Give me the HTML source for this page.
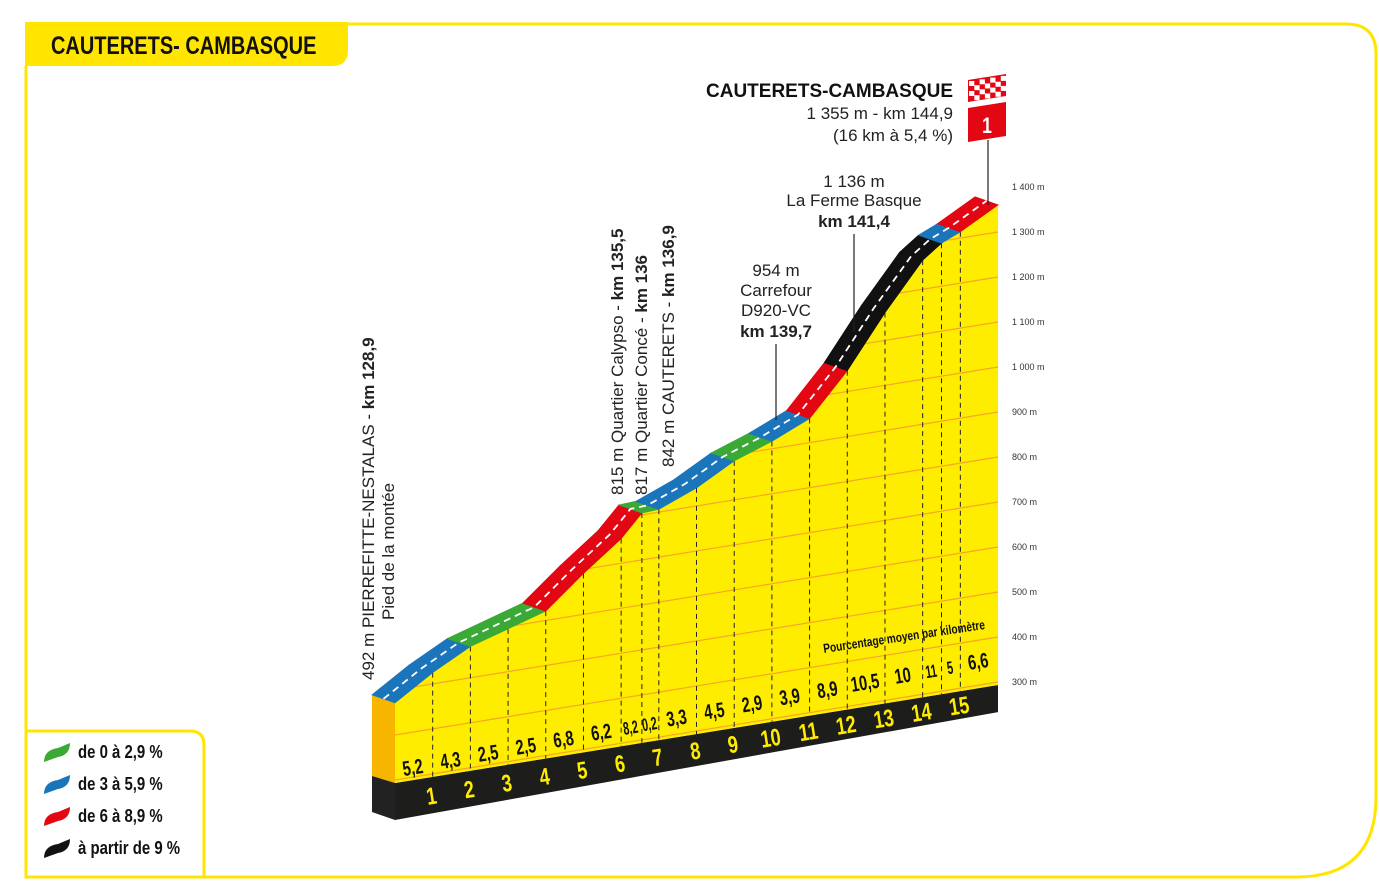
<!DOCTYPE html>
<html><head><meta charset="utf-8"><style>
html,body{margin:0;padding:0;background:#fff;}
svg{display:block;font-family:"Liberation Sans",sans-serif;}
.cn{font-family:"Liberation Sans",sans-serif;font-weight:bold;}
</style></head><body>
<svg id="chart" width="1379" height="889" viewBox="0 0 1379 889">
<defs><clipPath id="faceClip"><path id="clipPath" d=""/></clipPath></defs>
<path d="M26,66 L26,877 L1296,877 Q1376,877 1376,797 L1376,54 Q1376,24 1346,24 L348,24" fill="none" stroke="#ffe500" stroke-width="3"/>
<path d="M25,22 L348,22 L348,50 Q348,66 332,66 L25,66 Z" fill="#ffe500"/>
<text transform="translate(51,54) scale(0.8,1)" class="cn" font-size="25" fill="#111">CAUTERETS- CAMBASQUE</text>
<g id="profile"></g>
<g id="axis"></g>
<g font-size="17" fill="#222">
<text transform="translate(374,680) rotate(-90)">492 m PIERREFITTE-NESTALAS - <tspan font-weight="bold">km 128,9</tspan></text>
<text transform="translate(394,620) rotate(-90)">Pied de la montée</text>
<text transform="translate(623,495) rotate(-90)">815 m Quartier Calypso - <tspan font-weight="bold">km 135,5</tspan></text>
<text transform="translate(647,495) rotate(-90)">817 m Quartier Concé - <tspan font-weight="bold">km 136</tspan></text>
<text transform="translate(674,467) rotate(-90)">842 m CAUTERETS - <tspan font-weight="bold">km 136,9</tspan></text>
<g text-anchor="middle">
<text x="776" y="276">954 m</text><text x="776" y="296">Carrefour</text><text x="776" y="316">D920-VC</text><text x="776" y="337" font-weight="bold">km 139,7</text></g>
<line x1="776" y1="344" x2="776" y2="420" stroke="#222" stroke-width="1.2"/>
<g text-anchor="middle">
<text x="854" y="187">1 136 m</text><text x="854" y="206">La Ferme Basque</text><text x="854" y="227" font-weight="bold">km 141,4</text></g>
<line x1="854" y1="234" x2="854" y2="332" stroke="#222" stroke-width="1.2"/>
<g text-anchor="end">
<text x="953" y="97" font-size="19" font-weight="bold" fill="#111">CAUTERETS-CAMBASQUE</text>
<text x="953" y="119">1 355 m - km 144,9</text><text x="953" y="141">(16 km à 5,4 %)</text></g>
<line x1="988" y1="140" x2="988" y2="205" stroke="#222" stroke-width="1.2"/>
</g>
<g>
<path d="M968,80 L1006,74 L1006,96 L968,102 Z" fill="#e30613"/>
<g id="checks"></g>
<path d="M968,108 L1006,102 L1006,136 L968,142 Z" fill="#e30613"/>
<text transform="translate(987,133) scale(0.8,1)" text-anchor="middle" class="cn" font-size="22" fill="#fff">1</text>
</g>
<text transform="translate(824,653) rotate(-8.5) scale(0.78,1)" class="cn" font-size="13" fill="#111">Pourcentage moyen par kilomètre</text>
<g>
<path d="M26,731 L190,731 Q204,731 204,745 L204,877" fill="none" stroke="#ffe500" stroke-width="3"/>
<g id="legendItems"></g>
</g>
</svg>
<script>
const kms  = [0,1,2,3,4,5,6,6.55,7,8,9,10,11,12,13,14,14.5,15,16];
const elev = [492,544,587,612,637,705,767,815,817,850,895,924,960,1050,1162,1262,1292,1310,1355];
const grads = ["5,2","4,3","2,5","2,5","6,8","6,2","8,2","0,2","3,3","4,5","2,9","3,9","8,9","10,5","10","11","5","6,6"];
const gradVals = [5.2,4.3,2.5,2.5,6.8,6.2,8.2,0.2,3.3,4.5,2.9,3.9,8.9,10.5,10,11,5,6.6];
const kmTicks = [1,2,3,4,5,6,7,8,9,10,11,12,13,14,15];
const elevTicks = [1400,1300,1200,1100,1000,900,800,700,600,500,400,300];
const legendLabels = ["de 0 à 2,9 %","de 3 à 5,9 %","de 6 à 8,9 %","à partir de 9 %"];
const legendColors = ["#3aa935","#1b75bb","#e30613","#111111"];

const NS="http://www.w3.org/2000/svg";
const X0=395,PX=37.69,SL=0.1625,E0=319,K=0.4635,OX=-23,OY=-8;
const X=km=>X0+km*PX;
const B=x=>783-(x-X0)*SL;
const BB=x=>820-(x-X0)*0.179;
const Y=(km,e)=>B(X(km))-(e-E0)*K;
const AY=e=>187+(1400-e)*0.45;
const col=g=>g<3?legendColors[0]:g<6?legendColors[1]:g<9?legendColors[2]:legendColors[3];
function mk(tag,attrs,parent){const el=document.createElementNS(NS,tag);for(const k in attrs)el.setAttribute(k,attrs[k]);parent.appendChild(el);return el;}
const P=document.getElementById('profile');

let s=mk('path',{d:`M372,${Y(0,elev[0])-8} L395,${Y(0,elev[0])} L395,783 L372,776 Z`,fill:'#f7b500'},P);


let bs=mk('path',{d:`M372,776 L395,783 L395,820 L372,812 Z`,fill:'#222'},P);


let bd=mk('path',{d:`M395,783 L998,${B(998)} L998,${BB(998)} L395,820 Z`,fill:'#1d1d1b'},P);


let d=`M${X(0)},${B(X(0))}`;
kms.forEach((k,i)=>{d+=` L${X(k)},${Y(k,elev[i])}`;});
d+=` L${X(16)},${B(X(16))} Z`;
document.getElementById('clipPath').setAttribute('d',d);
let f=mk('path',{d:d,fill:'#ffed00'},P);


const G=mk('g',{'clip-path':'url(#faceClip)'},P);
elevTicks.forEach(e=>{
  const y2=AY(e);const y1=y2+(998-395)*SL;
  let l=mk('line',{x1:395,y1:y1,x2:998,y2:y2,stroke:'#f5a623','stroke-width':1.2},G);
  
  
});
kms.slice(1,-1).forEach((k,j)=>{
  const x=X(k);
  let l=mk('line',{x1:x,y1:Y(k,elev[j+1]),x2:x,y2:B(x),stroke:'#222','stroke-width':1,'stroke-dasharray':'5,4'},P);
  
  
});
for(let i=0;i<kms.length-1;i++){
  const x1=X(kms[i]),y1=Y(kms[i],elev[i]),x2=X(kms[i+1]),y2=Y(kms[i+1],elev[i+1]);
  let r=mk('path',{d:`M${x1},${y1} L${x2},${y2} L${x2+OX},${y2+OY} L${x1+OX},${y1+OY} Z`,fill:col(gradVals[i]),stroke:col(gradVals[i]),'stroke-width':0.8},P);
  
  
}
let dl=`M${X(0)+OX/2},${Y(0,elev[0])+OY/2}`;
kms.forEach((k,i)=>{dl+=` L${X(k)+OX/2},${Y(k,elev[i])+OY/2}`;});
let ws=mk('path',{d:dl,fill:'none',stroke:'#fff','stroke-width':1.8,'stroke-dasharray':'7,5'},P);


for(let i=0;i<grads.length;i++){
  const xm=(X(kms[i])+X(kms[i+1]))/2;
  const y=B(xm)-5-(xm-395)*0.025;
  const narrow=(kms[i+1]-kms[i])<0.7;
  let t=mk('text',{x:0,y:0,'text-anchor':'middle',class:'cn','font-size':narrow?18:21,fill:'#111',transform:`translate(${xm},${y}) rotate(-9) scale(${narrow?0.6:0.7},1)`},P);
  t.textContent=grads[i];
  
  
}
kmTicks.forEach(k=>{
  const x=X(k);const y=(B(x)+BB(x))/2+9;
  let t=mk('text',{x:0,y:0,'text-anchor':'middle',class:'cn','font-size':24,fill:'#ffed00',transform:`translate(${x},${y}) rotate(-9) scale(0.75,1)`},P);
  t.textContent=k;
  
  
});
const A=document.getElementById('axis');
elevTicks.forEach(e=>{
  let t=mk('text',{x:1012,y:AY(e)+3,'font-size':9,fill:'#333'},A);
  t.textContent=(e>=1000?'1 '+String(e).slice(1):e)+' m';
  
  
});
const C=document.getElementById('checks');
for(let r=0;r<4;r++)for(let c=0;c<7;c++){if((r+c)%2)continue;
  const x=969+c*5.3,y=81+r*5-c*0.85;
  mk('rect',{x:x,y:y,width:5.3,height:5,fill:'#fff'},C);}
const L=document.getElementById('legendItems');
legendLabels.forEach((lab,i)=>{
  const y=752+i*32;
  let ic=mk('path',{d:`M44,${y+10} Q44,${y-2} 58,${y-4} L70,${y-9} Q70,${y+3} 58,${y+5} Z`,fill:legendColors[i]},L);
  
  
  let t=mk('text',{x:0,y:0,class:'cn','font-size':18,fill:'#111',transform:`translate(78,${y+6}) scale(0.83,1)`},L);
  t.textContent=lab;
  
  
});
</script>
</body></html>
